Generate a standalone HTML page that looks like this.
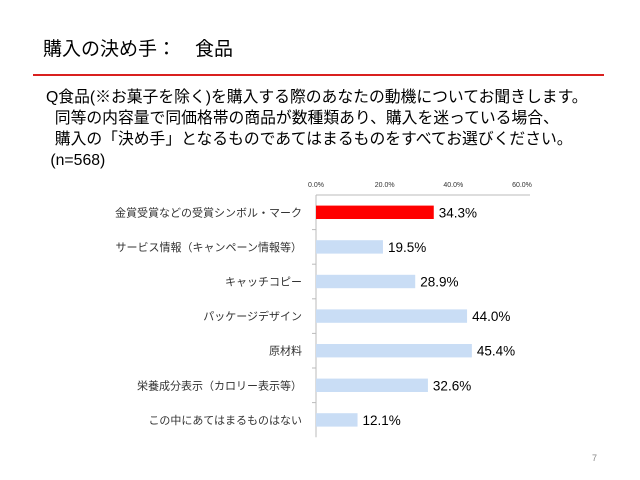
<!DOCTYPE html>
<html><head><meta charset="utf-8"><style>
body{margin:0;width:640px;height:480px;background:#fff;overflow:hidden;font-family:"Liberation Sans","Noto Sans CJK JP",sans-serif;color:#000}
.t{position:absolute;white-space:nowrap}
</style></head><body>
<div class="t" style="left:43px;top:34px;font-size:19px">購入の決め手：　食品</div>
<div style="position:absolute;left:33px;top:74px;width:571px;height:2px;background:#d9201f"></div>
<div class="t" style="left:46px;top:87px;font-size:15.8px;line-height:21px">Q食品(※お菓子を除く)を購入する際のあなたの動機についてお聞きします。<br>&nbsp;&nbsp;同等の内容量で同価格帯の商品が数種類あり、購入を迷っている場合、<br>&nbsp;&nbsp;購入の「決め手」となるものであてはまるものをすべてお選びください。<br>&nbsp;(n=568)</div>
<svg id="c" width="640" height="480" style="position:absolute;left:0;top:0"></svg>
<div class="t" style="left:592px;top:453px;font-size:9px;color:#888">7</div>
<script>
const categories=["金賞受賞などの受賞シンボル・マーク","サービス情報（キャンペーン情報等）","キャッチコピー","パッケージデザイン","原材料","栄養成分表示（カロリー表示等）","この中にあてはまるものはない"];
const values=[34.3,19.5,28.9,44.0,45.4,32.6,12.1];
const ticks=[0,20,40,60];
const tickLabels=["0.0%","20.0%","40.0%","60.0%"];
const svg=document.getElementById('c');const NS="http://www.w3.org/2000/svg";
const x0=316,x1=522,y0=195,rowH=34.6;
const xs=v=>x0+(v/60)*(x1-x0);
function mk(t,a){const e=document.createElementNS(NS,t);for(const k in a)e.setAttribute(k,a[k]);svg.appendChild(e);return e;}
let e=mk('line',{x1:x0,y1:y0,x2:x1+8,y2:y0,stroke:'#bbb'});


e=mk('line',{x1:x0,y1:y0,x2:x0,y2:y0+rowH*categories.length,stroke:'#bbb'});


ticks.forEach((t,i)=>{const l=mk('text',{x:xs(t),y:187,'font-size':7,'text-anchor':'middle',fill:'#333'});l.textContent=tickLabels[i];

});
categories.forEach((c,i)=>{
const cy=y0+rowH*(i+0.5);
if(i>0){const tk=mk('line',{x1:x0-4,y1:y0+rowH*i,x2:x0,y2:y0+rowH*i,stroke:'#bbb'});}
const b=mk('rect',{x:x0,y:cy-6.7,width:xs(values[i])-x0,height:13.4,fill:i===0?'#ff0000':'#c9ddf5'});


const lb=mk('text',{x:x0-14,y:cy+4,'font-size':11,'text-anchor':'end',fill:'#333'});lb.textContent=c;


const v=mk('text',{x:xs(values[i])+5,y:cy+5,'font-size':13.5,fill:'#000'});v.textContent=values[i].toFixed(1)+'%';


});
</script>
</body></html>
